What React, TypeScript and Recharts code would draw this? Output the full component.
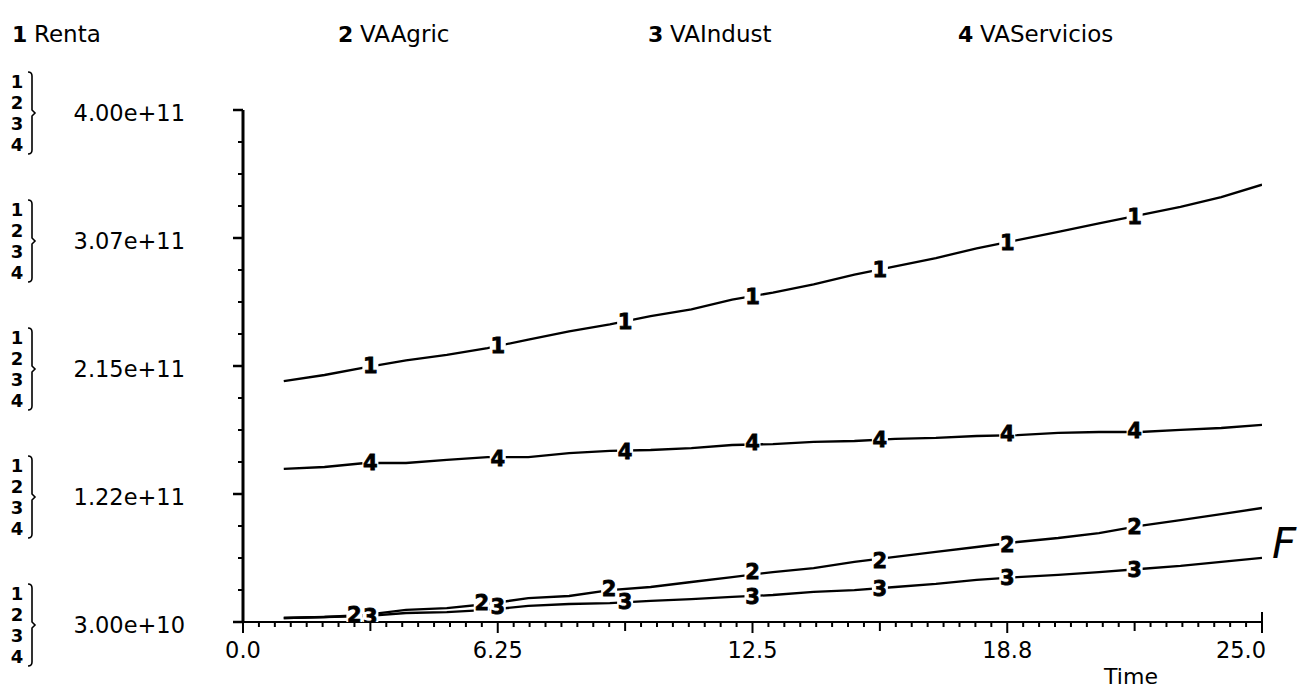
import React from 'react';
import { ComposedChart, Line, Scatter, XAxis, YAxis } from 'recharts';

// Simulation output, one value per year; units of 1e9
const years = [1, 2, 3, 4, 5, 6, 7, 8, 9, 10, 11, 12, 13, 14, 15, 16, 17, 18, 19, 20, 21, 22, 23, 24, 25];
const renta = [204, 208.5, 214, 219, 223, 228, 234, 240, 245, 251, 256, 263, 268, 274, 281, 287, 293, 300, 306, 312, 318, 324, 330, 337, 346];
const vaAgric = [32.9, 33.6, 35.1, 38.7, 40.1, 43, 47.3, 48.8, 53.1, 55.3, 58.9, 62.5, 66.1, 69, 73.4, 77, 80.6, 84.2, 87.8, 90.7, 94.3, 99.4, 103.7, 108, 112.4];
const vaIndust = [32.9, 33.6, 34.3, 36.5, 37.2, 38.7, 41.6, 43, 43.7, 45.2, 46.6, 48.1, 49.5, 51.7, 53.1, 55.3, 57.5, 60.4, 62.5, 64, 66.1, 68.3, 70.5, 73.4, 76.3];
const vaServicios = [140.6, 142, 144.9, 144.9, 147.1, 149.2, 149.2, 152.1, 153.6, 154.3, 155.7, 157.9, 158.6, 160.1, 160.8, 162.3, 163, 164.4, 165.1, 166.6, 167.3, 167.3, 168.8, 170.2, 172.4];

// Curve identifiers written along each curve
const markTimes = [3.125, 6.25, 9.375, 12.5, 15.625, 18.75, 21.875];
const rentaMarks = [215, 229.5, 246.8, 264.9, 284.4, 303.9, 322.7];
const agricMarks = [35.1, 43.7, 53.8, 66.1, 74.1, 85.6, 98.7];
const industMarks = [33.6, 40.8, 44.5, 48.1, 53.8, 61.8, 67.6];
const serviciosMarks = [144.9, 147.8, 152.9, 159.4, 161.5, 165.9, 168];

const seriesNames = ['Renta', 'VAAgric', 'VAIndust', 'VAServicios'];
const seriesDigits = ['1', '2', '3', '4'];

const yMajor = [30, 122.5, 215, 307.5, 400];
const yTickLabels = ['3.00e+10', '1.22e+11', '2.15e+11', '3.07e+11', '4.00e+11'];
const xMajor = [0, 6.25, 12.5, 18.75, 25];
const xTickLabels = ['0.0', '6.25', '12.5', '18.8', '25.0'];

const rows = years.map((t, i) => ({
  t,
  renta: renta[i],
  agric: vaAgric[i],
  indust: vaIndust[i],
  serv: vaServicios[i],
}));

const markRows = markTimes.map((t, i) => ({
  t,
  renta: rentaMarks[i],
  agric: agricMarks[i],
  indust: industMarks[i],
  serv: serviciosMarks[i],
}));

// quarter steps on the value axis, 1/64 steps on the time axis
const yTicks = Array.from({ length: 17 }, (_, i) => 30 + (370 / 16) * i);
const xTicks = Array.from({ length: 65 }, (_, i) => (25 / 64) * i);

const FONT = '"DejaVu Sans", Verdana, sans-serif';
const legendX = [12, 338, 648, 958];

const near = (a: number, b: number) => Math.abs(a - b) < 1e-6;

function YTick(props: any) {
  const { x, y, payload } = props;
  const k = yMajor.findIndex((m) => near(m, payload.value));
  if (k < 0) {
    return <line x1={x - 5} x2={x} y1={y} y2={y} stroke="#000" strokeWidth={2} />;
  }
  const cy = y + 3;
  const bx = x - 211;
  const bracket = `M ${bx - 4} ${cy - 41} Q ${bx} ${cy - 41} ${bx} ${cy - 37} L ${bx} ${cy - 3} L ${bx + 3} ${cy} L ${bx} ${cy + 3} L ${bx} ${cy + 37} Q ${bx} ${cy + 41} ${bx - 4} ${cy + 41}`;
  return (
    <g>
      <line x1={x - 10} x2={x} y1={y} y2={y} stroke="#000" strokeWidth={2.5} />
      <text x={x - 58} y={cy} textAnchor="end" dominantBaseline="central" fontFamily={FONT} fontSize={22.5} fill="#000">
        {yTickLabels[k]}
      </text>
      {seriesDigits.map((d, j) => (
        <text
          key={d}
          x={x - 226}
          y={cy + (j - 1.5) * 21}
          textAnchor="middle"
          dominantBaseline="central"
          fontFamily={FONT}
          fontWeight="bold"
          fontSize={18}
          fill="#000"
        >
          {d}
        </text>
      ))}
      <path d={bracket} fill="none" stroke="#000" strokeWidth={1.6} />
    </g>
  );
}

function XTick(props: any) {
  const { x, y, payload, index } = props;
  const k = xMajor.findIndex((m) => near(m, payload.value));
  const medium = index % 8 === 0;
  const len = k >= 0 ? 11 : medium ? 9 : 5;
  const last = k === xMajor.length - 1;
  return (
    <g>
      <line x1={x} x2={x} y1={last ? y - 10 : y} y2={y + len} stroke="#000" strokeWidth={2} />
      {k >= 0 && (
        <text
          x={last ? x + 4 : x}
          y={y + 36}
          textAnchor={last ? 'end' : 'middle'}
          fontFamily={FONT}
          fontSize={22.5}
          fill="#000"
        >
          {xTickLabels[k]}
        </text>
      )}
    </g>
  );
}

function makeMark(digit: string, shiftWhenCrowded: boolean) {
  return (props: any) => {
    const { cx, cy, payload } = props;
    if (cx == null || cy == null) return <g />;
    const crowded = shiftWhenCrowded && Math.abs(payload.agric - payload.indust) < 15;
    const px = crowded ? cx - 16 : cx;
    return (
      <g>
        <rect x={px - 8} y={cy - 11} width={16} height={22} fill="#fff" />
        <text
          x={px}
          y={cy}
          textAnchor="middle"
          dominantBaseline="central"
          fontFamily={FONT}
          fontWeight="bold"
          fontSize={21}
          stroke="#000"
          strokeWidth={0.8}
          fill="#000"
        >
          {digit}
        </text>
      </g>
    );
  };
}

export default function App() {
  return (
    <div style={{ position: 'absolute', left: 0, top: 0, width: 1301, height: 697, background: '#fff' }}>
      <ComposedChart width={1301} height={697} data={rows} margin={{ top: 110, right: 39, bottom: 15, left: 0 }}>
        <XAxis
          dataKey="t"
          type="number"
          domain={[0, 25]}
          ticks={xTicks}
          interval={0}
          height={60}
          tickSize={0}
          tickMargin={0}
          tickLine={false}
          axisLine={{ stroke: '#000', strokeWidth: 2 }}
          tick={<XTick />}
          allowDataOverflow
        />
        <YAxis
          type="number"
          domain={[30, 400]}
          ticks={yTicks}
          interval={0}
          width={243}
          tickSize={0}
          tickMargin={0}
          tickLine={false}
          axisLine={{ stroke: '#000', strokeWidth: 3 }}
          tick={<YTick />}
          allowDataOverflow
        />
        <Line dataKey="renta" stroke="#000" strokeWidth={2.3} dot={false} isAnimationActive={false} />
        <Line dataKey="agric" stroke="#000" strokeWidth={2.3} dot={false} isAnimationActive={false} />
        <Line dataKey="indust" stroke="#000" strokeWidth={2.3} dot={false} isAnimationActive={false} />
        <Line dataKey="serv" stroke="#000" strokeWidth={2.3} dot={false} isAnimationActive={false} />
        <Scatter data={markRows} dataKey="renta" shape={makeMark('1', false)} isAnimationActive={false} />
        <Scatter data={markRows} dataKey="serv" shape={makeMark('4', false)} isAnimationActive={false} />
        <Scatter data={markRows} dataKey="agric" shape={makeMark('2', true)} isAnimationActive={false} />
        <Scatter data={markRows} dataKey="indust" shape={makeMark('3', false)} isAnimationActive={false} />
      </ComposedChart>
      <svg width={1301} height={697} style={{ position: 'absolute', left: 0, top: 0, pointerEvents: 'none' }}>
        {seriesNames.map((name, i) => (
          <g key={name}>
            <text x={legendX[i]} y={42} fontFamily={FONT} fontWeight="bold" fontSize={22} fill="#000">
              {seriesDigits[i]}
            </text>
            <text x={legendX[i] + 22} y={42} fontFamily={FONT} fontSize={23} fill="#000">
              {name}
            </text>
          </g>
        ))}
        <text x={1131} y={684} textAnchor="middle" fontFamily={FONT} fontSize={22} fill="#000">
          Time
        </text>
        <text
          x={1272}
          y={558}
          fontFamily={'"DejaVu Sans ExtraLight", "DejaVu Sans", sans-serif'}
          fontStyle="italic"
          fontWeight={200}
          fontSize={42}
          fill="#000"
        >
          F
        </text>
      </svg>
    </div>
  );
}
